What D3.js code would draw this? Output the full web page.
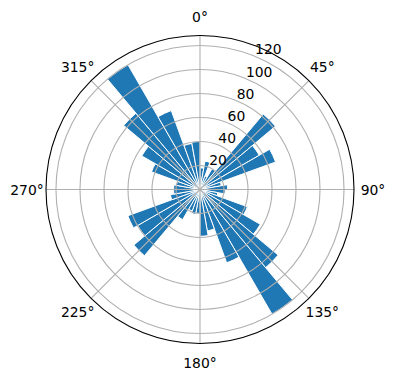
<!DOCTYPE html>
<html>
<head>
<meta charset="utf-8">
<script src="https://cdn.jsdelivr.net/npm/d3@7"></script>
<style>
  body { margin: 0; background: #fff; }
  svg { display: block; }
</style>
</head>
<body>
<div id="chart"></div>
<script>
// bin start angles in degrees (10 degree bins, clockwise from north)
const binStarts = d3.range(0, 360, 10)
const binWidth = 10
// counts per bin
const counts = [18, 24, 12, 20, 82, 57, 67, 18, 23,
                21, 15, 42, 58, 85, 120, 65, 35, 39,
                20, 21, 19, 29, 72, 60, 64, 25, 22,
                22, 20, 43, 56, 83, 120, 70, 39, 40]
const radialTicks = [20, 40, 60, 80, 100, 120]
const angleTicks = [0, 45, 90, 135, 180, 225, 270, 315]
const rMax = 128.3

const width = 396
const height = 380
const cx = 200
const cy = 189.5
const outerR = 154

const svg = d3.select('#chart')
    .append('svg')
    .attr('width', width)
    .attr('height', height)
    .style('font-family', '"DejaVu Sans", sans-serif')

const g = svg.append('g')
    .attr('transform', `translate(${cx},${cy})`)

const rScale = d3.scaleLinear()
    .domain([0, rMax])
    .range([0, outerR])

const toRad = deg => deg * Math.PI / 180

// bars
const arc = d3.arc()
    .innerRadius(0)
    .outerRadius(d => rScale(d.value))
    .startAngle(d => toRad(d.start))
    .endAngle(d => toRad(d.start + binWidth))

const barData = binStarts.map((s, i) => ({start: s, value: counts[i]}))

g.selectAll('.bar')
    .data(barData)
    .enter()
    .append('path')
    .attr('class', 'bar')
    .attr('d', arc)
    .attr('fill', '#1f77b4')
    .attr('stroke', '#ffffff')
    .attr('stroke-width', 1)

// grid circles
g.selectAll('.rgrid')
    .data(radialTicks)
    .enter()
    .append('circle')
    .attr('r', d => rScale(d))
    .attr('fill', 'none')
    .attr('stroke', '#b0b0b0')
    .attr('stroke-width', 1.1)

// angular grid lines
g.selectAll('.agrid')
    .data(angleTicks)
    .enter()
    .append('line')
    .attr('x1', 0)
    .attr('y1', 0)
    .attr('x2', d => outerR * Math.sin(toRad(d)))
    .attr('y2', d => -outerR * Math.cos(toRad(d)))
    .attr('stroke', '#b0b0b0')
    .attr('stroke-width', 1.1)

// outer frame
g.append('circle')
    .attr('r', outerR)
    .attr('fill', 'none')
    .attr('stroke', '#000')
    .attr('stroke-width', 1.1)

// angle labels
g.selectAll('.alabel')
    .data(angleTicks)
    .enter()
    .append('text')
    .attr('x', d => 173 * Math.sin(toRad(d)))
    .attr('y', d => -173 * Math.cos(toRad(d)))
    .attr('text-anchor', 'middle')
    .attr('dominant-baseline', 'central')
    .attr('font-size', '13.9px')
    .attr('fill', '#000')
    .text(d => d + '°')

// radial labels along 22.5 degrees
const labelAngle = toRad(22.5)
g.selectAll('.rlabel')
    .data(radialTicks)
    .enter()
    .append('text')
    .attr('x', d => rScale(d) * Math.sin(labelAngle))
    .attr('y', d => -rScale(d) * Math.cos(labelAngle) - 2)
    .attr('text-anchor', 'start')
    .attr('font-size', '13.9px')
    .attr('fill', '#000')
    .text(d => d)
</script>
</body>
</html>
